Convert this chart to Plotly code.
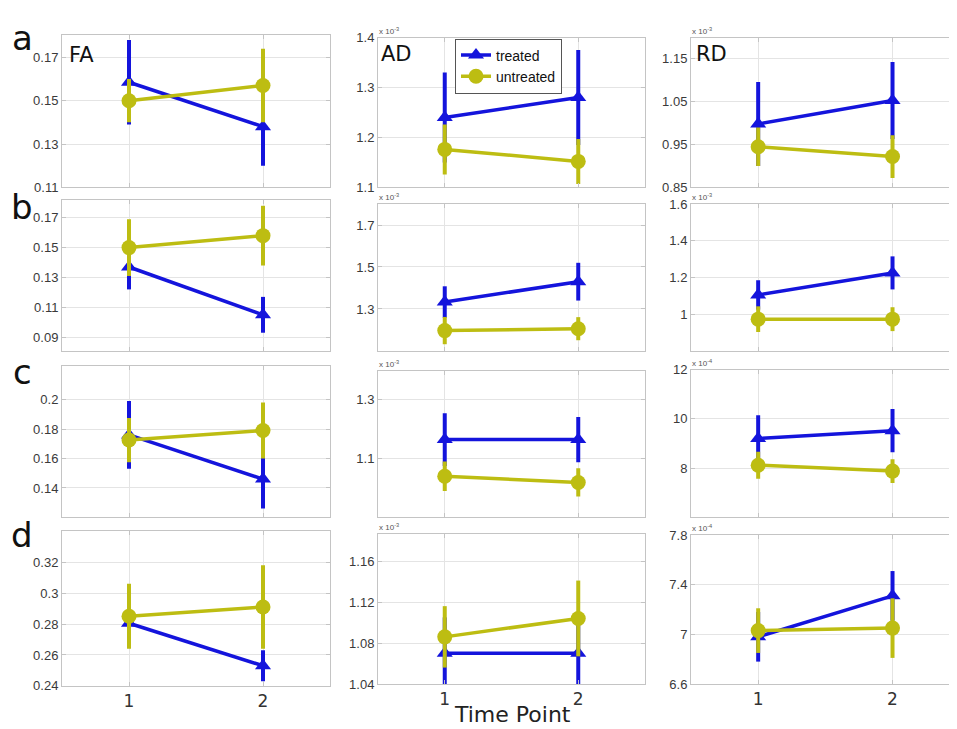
import plotly.graph_objects as go

# ---------------- data ----------------
time_points = [1, 2]
x_tick_labels = ["1", "2"]
measures = ["FA", "AD", "RD"]
row_labels = ["a", "b", "c", "d"]
series_names = ["treated", "untreated"]

# Values in displayed axis units (AD / RD are scaled by the exponent printed on the axis)
# row a
fa_a_treated = [0.1585, 0.138]; fa_a_treated_err = [0.0195, 0.018]
fa_a_untreated = [0.150, 0.157]; fa_a_untreated_err = [0.010, 0.017]
ad_a_treated = [1.24, 1.28]; ad_a_treated_err = [0.09, 0.095]
ad_a_untreated = [1.176, 1.152]; ad_a_untreated_err = [0.05, 0.045]
rd_a_treated = [0.998, 1.053]; rd_a_treated_err = [0.098, 0.09]
rd_a_untreated = [0.945, 0.922]; rd_a_untreated_err = [0.045, 0.05]
# row b
fa_b_treated = [0.137, 0.105]; fa_b_treated_err = [0.015, 0.012]
fa_b_untreated = [0.150, 0.158]; fa_b_untreated_err = [0.019, 0.020]
ad_b_treated = [1.333, 1.43]; ad_b_treated_err = [0.075, 0.09]
ad_b_untreated = [1.197, 1.206]; ad_b_untreated_err = [0.065, 0.055]
rd_b_treated = [1.105, 1.225]; rd_b_treated_err = [0.08, 0.09]
rd_b_untreated = [0.973, 0.973]; rd_b_untreated_err = [0.07, 0.065]
# row c
fa_c_treated = [0.176, 0.146]; fa_c_treated_err = [0.023, 0.020]
fa_c_untreated = [0.1725, 0.179]; fa_c_untreated_err = [0.015, 0.019]
ad_c_treated = [1.165, 1.165]; ad_c_treated_err = [0.09, 0.077]
ad_c_untreated = [1.04, 1.019]; ad_c_untreated_err = [0.05, 0.048]
rd_c_treated = [9.2, 9.52]; rd_c_treated_err = [0.95, 0.88]
rd_c_untreated = [8.12, 7.88]; rd_c_untreated_err = [0.55, 0.48]
# row d
fa_d_treated = [0.2805, 0.253]; fa_d_treated_err = [0.010, 0.010]
fa_d_untreated = [0.285, 0.291]; fa_d_untreated_err = [0.021, 0.027]
ad_d_treated = [1.07, 1.07]; ad_d_treated_err = [0.035, 0.035]
ad_d_untreated = [1.086, 1.104]; ad_d_untreated_err = [0.030, 0.037]
rd_d_treated = [6.98, 7.31]; rd_d_treated_err = [0.20, 0.20]
rd_d_untreated = [7.03, 7.05]; rd_d_untreated_err = [0.18, 0.24]

# y tick values / labels per panel
fa_a_ticks = [0.11, 0.13, 0.15, 0.17]; fa_a_labels = ["0.11", "0.13", "0.15", "0.17"]
ad_a_ticks = [1.1, 1.2, 1.3, 1.4]; ad_a_labels = ["1.1", "1.2", "1.3", "1.4"]
rd_a_ticks = [0.85, 0.95, 1.05, 1.15]; rd_a_labels = ["0.85", "0.95", "1.05", "1.15"]
fa_b_ticks = [0.09, 0.11, 0.13, 0.15, 0.17]; fa_b_labels = ["0.09", "0.11", "0.13", "0.15", "0.17"]
ad_b_ticks = [1.3, 1.5, 1.7]; ad_b_labels = ["1.3", "1.5", "1.7"]
rd_b_ticks = [1.0, 1.2, 1.4, 1.6]; rd_b_labels = ["1", "1.2", "1.4", "1.6"]
fa_c_ticks = [0.14, 0.16, 0.18, 0.20]; fa_c_labels = ["0.14", "0.16", "0.18", "0.2"]
ad_c_ticks = [1.1, 1.3]; ad_c_labels = ["1.1", "1.3"]
rd_c_ticks = [8, 10, 12]; rd_c_labels = ["8", "10", "12"]
fa_d_ticks = [0.24, 0.26, 0.28, 0.30, 0.32]; fa_d_labels = ["0.24", "0.26", "0.28", "0.3", "0.32"]
ad_d_ticks = [1.04, 1.08, 1.12, 1.16]; ad_d_labels = ["1.04", "1.08", "1.12", "1.16"]
rd_d_ticks = [6.6, 7.0, 7.4, 7.8]; rd_d_labels = ["6.6", "7", "7.4", "7.8"]

# axis exponents (None = no exponent)
exponents = [[None, "-3", "-3"], [None, "-3", "-3"], [None, "-3", "-4"], [None, "-3", "-4"]]

# ---------------- layout geometry ----------------
W, H = 957, 729
OFF_X, OFF_Y = 8, 0  # where the figure lands in the page
BLUE = "#1414dc"
YELLOW = "#bdbd12"
TICK_FONT = dict(family="Liberation Sans, Arial, sans-serif", size=13, color="#3a3a3a")


def px_x(x):
    return (x - OFF_X) / W


def px_y(y):
    return 1 - (y - OFF_Y) / H


col_px = [(62, 330), (378, 645), (691, 957)]
row_px = [
    [(20, 176), (23, 176), (23, 176)],
    [(189, 343), (193, 343), (193, 343)],
    [(358, 513), (363, 513), (362, 513)],
    [(527, 685), (530, 683), (531, 683)],
]
y_ranges = [
    [(0.11, 0.1805), (1.1, 1.4), (0.85, 1.2)],
    [(0.0808, 0.1818), (1.1, 1.8), (0.8, 1.6)],
    [(0.12, 0.223), (0.9, 1.4), (6, 12)],
    [(0.24, 0.34), (1.04, 1.1864), (6.6, 7.8)],
]
x_ranges = [(0.5, 2.5), (0.5, 2.5), (0.5, 2.48)]

panels = [
    [(fa_a_treated, fa_a_treated_err, fa_a_untreated, fa_a_untreated_err, fa_a_ticks, fa_a_labels),
     (ad_a_treated, ad_a_treated_err, ad_a_untreated, ad_a_untreated_err, ad_a_ticks, ad_a_labels),
     (rd_a_treated, rd_a_treated_err, rd_a_untreated, rd_a_untreated_err, rd_a_ticks, rd_a_labels)],
    [(fa_b_treated, fa_b_treated_err, fa_b_untreated, fa_b_untreated_err, fa_b_ticks, fa_b_labels),
     (ad_b_treated, ad_b_treated_err, ad_b_untreated, ad_b_untreated_err, ad_b_ticks, ad_b_labels),
     (rd_b_treated, rd_b_treated_err, rd_b_untreated, rd_b_untreated_err, rd_b_ticks, rd_b_labels)],
    [(fa_c_treated, fa_c_treated_err, fa_c_untreated, fa_c_untreated_err, fa_c_ticks, fa_c_labels),
     (ad_c_treated, ad_c_treated_err, ad_c_untreated, ad_c_untreated_err, ad_c_ticks, ad_c_labels),
     (rd_c_treated, rd_c_treated_err, rd_c_untreated, rd_c_untreated_err, rd_c_ticks, rd_c_labels)],
    [(fa_d_treated, fa_d_treated_err, fa_d_untreated, fa_d_untreated_err, fa_d_ticks, fa_d_labels),
     (ad_d_treated, ad_d_treated_err, ad_d_untreated, ad_d_untreated_err, ad_d_ticks, ad_d_labels),
     (rd_d_treated, rd_d_treated_err, rd_d_untreated, rd_d_untreated_err, rd_d_ticks, rd_d_labels)],
]

fig = go.Figure()
layout = {}
annotations = []

for r in range(4):
    for c in range(3):
        k = r * 3 + c + 1
        xa = "x" if k == 1 else f"x{k}"
        ya = "y" if k == 1 else f"y{k}"
        xkey = "xaxis" if k == 1 else f"xaxis{k}"
        ykey = "yaxis" if k == 1 else f"yaxis{k}"
        tr, tr_e, un, un_e, yt, yl = panels[r][c]
        legend_here = (r == 0 and c == 1)

        fig.add_trace(go.Scatter(
            x=time_points, y=tr, xaxis=xa, yaxis=ya, mode="lines+markers",
            name=series_names[0], showlegend=legend_here,
            line=dict(color=BLUE, width=3.5),
            marker=dict(symbol="triangle-up", size=14, color=BLUE),
            error_y=dict(type="data", array=tr_e, visible=True, color=BLUE, thickness=4, width=0),
        ))
        fig.add_trace(go.Scatter(
            x=time_points, y=un, xaxis=xa, yaxis=ya, mode="lines+markers",
            name=series_names[1], showlegend=legend_here,
            line=dict(color=YELLOW, width=3.5),
            marker=dict(symbol="circle", size=15, color=YELLOW),
            error_y=dict(type="data", array=un_e, visible=True, color=YELLOW, thickness=4, width=0),
        ))

        x0, x1 = col_px[c]
        y0, y1 = row_px[r][c]
        layout[xkey] = dict(
            domain=[px_x(x0), min(1.0, px_x(x1))], range=list(x_ranges[c]), anchor=ya,
            tickvals=time_points, ticktext=x_tick_labels, showticklabels=(r == 3),
            tickfont=dict(family="DejaVu Sans, sans-serif", size=17, color="#333"),
            showgrid=True, gridcolor="#e4e4e4", gridwidth=1, zeroline=False,
            showline=True, linecolor="#c4c4c4", linewidth=1, mirror="ticks",
            ticks="inside", ticklen=4, tickcolor="#c4c4c4",
        )
        layout[ykey] = dict(
            domain=[px_y(y1), px_y(y0)], range=list(y_ranges[r][c]), anchor=xa,
            tickvals=yt, ticktext=yl, tickfont=TICK_FONT,
            showgrid=True, gridcolor="#e4e4e4", gridwidth=1, zeroline=False,
            showline=True, linecolor="#c4c4c4", linewidth=1, mirror="ticks",
            ticks="inside", ticklen=4, tickcolor="#c4c4c4",
        )
        exp = exponents[r][c]
        if exp is not None:
            annotations.append(dict(
                text=f"x 10<sup>{exp}</sup>", x=px_x(x0), y=px_y(y0), xref="paper", yref="paper",
                xanchor="left", yanchor="bottom", showarrow=False, xshift=-1,
                font=dict(family="Liberation Sans, Arial, sans-serif", size=8, color="#555"),
            ))

# measure titles
for c, (name, (px, py)) in enumerate(zip(measures, [(81, 41), (396, 40), (711, 40)])):
    annotations.append(dict(
        text=name, x=px_x(px), y=px_y(py), xref="paper", yref="paper",
        xanchor="center", yanchor="middle", showarrow=False,
        font=dict(family="DejaVu Sans, sans-serif", size=21, color="#111"),
    ))

# row letters
for lab, py in zip(row_labels, [23, 196, 365, 531]):
    annotations.append(dict(
        text=lab, x=px_x(22), y=px_y(py), xref="paper", yref="paper",
        xanchor="center", yanchor="middle", showarrow=False,
        font=dict(family="DejaVu Sans, sans-serif", size=34, color="#111"),
    ))

# x-axis title
annotations.append(dict(
    text="Time Point", x=px_x(512), y=px_y(714), xref="paper", yref="paper",
    xanchor="center", yanchor="middle", showarrow=False,
    font=dict(family="DejaVu Sans, sans-serif", size=22, color="#222"),
))

fig.update_layout(
    **layout,
    annotations=annotations,
    width=W, height=H,
    margin=dict(l=0, r=0, t=0, b=0),
    paper_bgcolor="white", plot_bgcolor="white",
    legend=dict(
        x=px_x(455), y=px_y(24), xanchor="left", yanchor="top",
        bgcolor="white", bordercolor="#555", borderwidth=1,
        font=dict(family="Liberation Sans, Arial, sans-serif", size=14, color="#111"),
        itemwidth=30, tracegroupgap=0,
    ),
)

fig.write_html("out.html")
